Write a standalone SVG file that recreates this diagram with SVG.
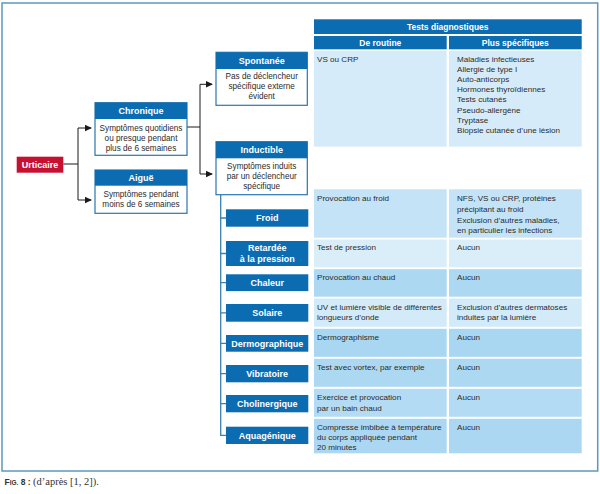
<svg xmlns="http://www.w3.org/2000/svg" width="600" height="494" viewBox="0 0 600 494">
<defs>
<marker id="arr" markerWidth="7" markerHeight="7" refX="6" refY="3.5" orient="auto" markerUnits="userSpaceOnUse"><path d="M0,0.3 L7,3.5 L0,6.7 Z" fill="#1a1a1a"/></marker>
</defs>
<style>
.hd{fill:#0b6cb1}
.bd{fill:#fff;stroke:#2a76ad;stroke-width:1.2}
.lb{fill:#0b6cb1}
.ht{font-family:"Liberation Sans",Arial,sans-serif;font-weight:bold;font-size:9px;fill:#fff;text-anchor:middle}
.bt{font-family:"Liberation Sans",Arial,sans-serif;font-size:8.2px;fill:#2b2b2b;text-anchor:middle}
.tt{font-family:"Liberation Sans",Arial,sans-serif;font-size:8.1px;fill:#2b2b2b}
.th{font-family:"Liberation Sans",Arial,sans-serif;font-weight:bold;font-size:8.5px;fill:#fff;text-anchor:middle}
.cn{fill:none;stroke:#1a1a1a;stroke-width:1}
.tr{fill:none;stroke:#3b80ae;stroke-width:1.3}
.r0{fill:#d6ebf9}.r1{fill:#c4e3f6}.r2{fill:#daeefa}.r3{fill:#acd8f2}.r4{fill:#d3eaf8}.r5{fill:#a9d6f1}.r6{fill:#acd8f2}.r7{fill:#b3dbf3}.r8{fill:#abd7f2}
</style>
<rect x="2" y="3" width="595.7" height="468" fill="#fff" stroke="#5c98bc" stroke-width="1.5"/>

<g id="connectors">
<path class="cn" d="M63.3,164 H78 M78,128 V200"/>
<path class="cn" d="M78,128 H91" marker-end="url(#arr)"/>
<path class="cn" d="M78,200 H91" marker-end="url(#arr)"/>
<path class="cn" d="M187,127 H200 M200,84.3 V174"/>
<path class="cn" d="M200,84.3 H212" marker-end="url(#arr)"/>
<path class="cn" d="M200,174 H212" marker-end="url(#arr)"/>
<path class="tr" d="M220.7,194.7 V435.3 H226 M220.7,218 H226 M220.7,253.5 H226 M220.7,282.7 H226 M220.7,312.8 H226 M220.7,343.3 H226 M220.7,373.7 H226 M220.7,403.7 H226"/>
</g>

<g id="urticaire">
<rect x="16.7" y="156.7" width="46.6" height="16" fill="#c5102f"/>
<text class="ht" x="40" y="168">Urticaire</text>
</g>

<g id="chronique">
<rect class="bd" x="95" y="102.7" width="92" height="52.6"/>
<rect class="hd" x="95" y="102.7" width="92" height="16.3"/>
<text class="ht" x="141" y="114.2">Chronique</text>
<text class="bt" x="141" y="130.5">Symptômes quotidiens</text>
<text class="bt" x="141" y="140.5">ou presque pendant</text>
<text class="bt" x="141" y="150.5">plus de 6 semaines</text>
</g>

<g id="aigue">
<rect class="bd" x="95" y="170" width="92" height="43.3"/>
<rect class="hd" x="95" y="170" width="92" height="15.7"/>
<text class="ht" x="141" y="181.1">Aiguë</text>
<text class="bt" x="141" y="197.3">Symptômes pendant</text>
<text class="bt" x="141" y="207.3">moins de 6 semaines</text>
</g>

<g id="spontanee">
<rect class="bd" x="216" y="52.3" width="91.3" height="53"/>
<rect class="hd" x="216" y="52.3" width="91.3" height="16.7"/>
<text class="ht" x="261.7" y="64">Spontanée</text>
<text class="bt" x="261.7" y="79">Pas de déclencheur</text>
<text class="bt" x="261.7" y="89">spécifique externe</text>
<text class="bt" x="261.7" y="99">évident</text>
</g>

<g id="inductible">
<rect class="bd" x="216" y="141.7" width="91.3" height="53"/>
<rect class="hd" x="216" y="141.7" width="91.3" height="16.6"/>
<text class="ht" x="261.7" y="153.3">Inductible</text>
<text class="bt" x="261.7" y="169">Symptômes induits</text>
<text class="bt" x="261.7" y="179">par un déclencheur</text>
<text class="bt" x="261.7" y="189">spécifique</text>
</g>

<g id="froid"><rect class="lb" x="226" y="209.3" width="82.3" height="17.4"/><text class="ht" x="267.2" y="221.2">Froid</text></g>
<g id="retardee"><rect class="lb" x="226" y="241" width="82.3" height="25"/><text class="ht" x="267.2" y="250.8">Retardée</text><text class="ht" x="267.2" y="262">à la pression</text></g>
<g id="chaleur"><rect class="lb" x="226" y="274.3" width="82.3" height="16.8"/><text class="ht" x="267.2" y="285.9">Chaleur</text></g>
<g id="solaire"><rect class="lb" x="226" y="304" width="82.3" height="17.7"/><text class="ht" x="267.2" y="316">Solaire</text></g>
<g id="dermographique"><rect class="lb" x="226" y="335" width="82.3" height="16.7"/><text class="ht" x="267.2" y="346.5">Dermographique</text></g>
<g id="vibratoire"><rect class="lb" x="226" y="365" width="82.3" height="17.3"/><text class="ht" x="267.2" y="376.9">Vibratoire</text></g>
<g id="cholinergique"><rect class="lb" x="226" y="395" width="82.3" height="17.3"/><text class="ht" x="267.2" y="406.9">Cholinergique</text></g>
<g id="aquagenique"><rect class="lb" x="226" y="426.7" width="82.3" height="17.3"/><text class="ht" x="267.2" y="438.5">Aquagénique</text></g>

<g id="table-header">
<rect class="hd" x="314" y="19.3" width="267.7" height="14.7"/>
<text class="th" x="447.8" y="29.8">Tests diagnostiques</text>
<rect class="hd" x="314" y="36" width="132.7" height="13.3"/>
<rect class="hd" x="449" y="36" width="132.7" height="13.3"/>
<text class="th" x="380.3" y="45.8">De routine</text>
<text class="th" x="515.3" y="45.8">Plus spécifiques</text>
</g>

<g id="row-spontanee">
<rect class="r0" x="314" y="50.7" width="132.7" height="96"/>
<rect class="r0" x="449" y="50.7" width="132.7" height="96"/>
<text class="tt" x="317" y="62">VS ou CRP</text>
<text class="tt" x="457" y="62">Maladies infectieuses</text>
<text class="tt" x="457" y="72.1">Allergie de type I</text>
<text class="tt" x="457" y="82.2">Auto-anticorps</text>
<text class="tt" x="457" y="92.3">Hormones thyroïdiennes</text>
<text class="tt" x="457" y="102.4">Tests cutanés</text>
<text class="tt" x="457" y="112.5">Pseudo-allergène</text>
<text class="tt" x="457" y="122.6">Tryptase</text>
<text class="tt" x="457" y="132.7">Biopsie cutanée d’une lésion</text>
</g>

<g id="row-froid">
<rect class="r1" x="314" y="189.3" width="132.7" height="48.4"/>
<rect class="r1" x="449" y="189.3" width="132.7" height="48.4"/>
<text class="tt" x="317" y="201.3">Provocation au froid</text>
<text class="tt" x="457" y="201.3">NFS, VS ou CRP, protéines</text>
<text class="tt" x="457" y="211.9">précipitant au froid</text>
<text class="tt" x="457" y="222.5">Exclusion d’autres maladies,</text>
<text class="tt" x="457" y="233.1">en particulier les infections</text>
</g>

<g id="row-retardee">
<rect class="r2" x="314" y="239.5" width="132.7" height="27.8"/>
<rect class="r2" x="449" y="239.5" width="132.7" height="27.8"/>
<text class="tt" x="317" y="249.7">Test de pression</text>
<text class="tt" x="457" y="249.7">Aucun</text>
</g>

<g id="row-chaleur">
<rect class="r3" x="314" y="269.2" width="132.7" height="27.5"/>
<rect class="r3" x="449" y="269.2" width="132.7" height="27.5"/>
<text class="tt" x="317" y="279.7">Provocation au chaud</text>
<text class="tt" x="457" y="279.7">Aucun</text>
</g>

<g id="row-solaire">
<rect class="r4" x="314" y="298.5" width="132.7" height="28.3"/>
<rect class="r4" x="449" y="298.5" width="132.7" height="28.3"/>
<text class="tt" x="317" y="309.7">UV et lumière visible de différentes</text>
<text class="tt" x="317" y="319.9">longueurs d’onde</text>
<text class="tt" x="457" y="309.7">Exclusion d’autres dermatoses</text>
<text class="tt" x="457" y="319.9">induites par la lumière</text>
</g>

<g id="row-dermographique">
<rect class="r5" x="314" y="328.8" width="132.7" height="28"/>
<rect class="r5" x="449" y="328.8" width="132.7" height="28"/>
<text class="tt" x="317" y="340.3">Dermographisme</text>
<text class="tt" x="457" y="340.3">Aucun</text>
</g>

<g id="row-vibratoire">
<rect class="r6" x="314" y="358.8" width="132.7" height="28"/>
<rect class="r6" x="449" y="358.8" width="132.7" height="28"/>
<text class="tt" x="317" y="370.3">Test avec vortex, par exemple</text>
<text class="tt" x="457" y="370.3">Aucun</text>
</g>

<g id="row-cholinergique">
<rect class="r7" x="314" y="388.8" width="132.7" height="28"/>
<rect class="r7" x="449" y="388.8" width="132.7" height="28"/>
<text class="tt" x="317" y="399.7">Exercice et provocation</text>
<text class="tt" x="317" y="410.5">par un bain chaud</text>
<text class="tt" x="457" y="399.7">Aucun</text>
</g>

<g id="row-aquagenique">
<rect class="r8" x="314" y="418.8" width="132.7" height="34.5"/>
<rect class="r8" x="449" y="418.8" width="132.7" height="34.5"/>
<text class="tt" x="317" y="429.7">Compresse imbibée à température</text>
<text class="tt" x="317" y="440">du corps appliquée pendant</text>
<text class="tt" x="317" y="450.2">20 minutes</text>
<text class="tt" x="457" y="429.7">Aucun</text>
</g>

<g id="caption">
<text x="4.5" y="484.5" font-family="Liberation Sans,Arial,sans-serif" font-weight="bold" font-size="8.5" fill="#333">F<tspan font-size="6.5">IG.</tspan> 8 : <tspan font-family="Liberation Serif,Times New Roman,serif" font-weight="normal" font-size="10.5">(d’après [1, 2]).</tspan></text>
</g>
</svg>
